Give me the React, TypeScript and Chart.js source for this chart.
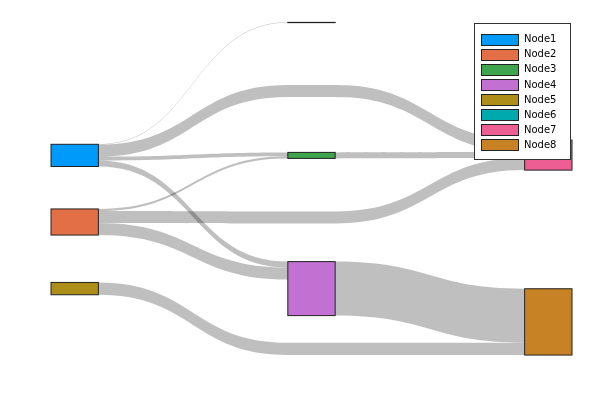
import React, { useEffect, useRef } from "react";
import { Chart, registerables } from "chart.js";

Chart.register(...registerables);

// ---- data ----
const nodeNames = ["Node1", "Node2", "Node3", "Node4", "Node5", "Node6", "Node7", "Node8"];
const nodeColors = ["#009AFA", "#E36F47", "#3EA44E", "#C271D2", "#AC8E18", "#00A9AD", "#ED5E93", "#C68225"];
const nodeLayer = [0, 0, 1, 1, 0, 1, 2, 2];
const nodeY = [51.8, 74.0, 51.8, 96.2, 96.2, 7.5, 51.7, 107.3];

const linkSource = [0, 0, 0, 0, 1, 1, 1, 2, 3, 4];
const linkTarget = [5, 6, 2, 3, 2, 6, 3, 6, 7, 7];
const linkValue = [0.1, 4, 1.3, 2, 0.7, 4, 4, 2, 18, 4.1];
const linkVia: (number | null)[] = [null, 30.3, null, null, null, 72.5, null, null, null, 116.3];

const NODE_W = 0.2;

const sankeyPlugin = {
  id: "sankeyDraw",
  afterDraw(chart: any) {
    const ctx: CanvasRenderingContext2D = chart.ctx;
    const xs = chart.scales.x;
    const ys = chart.scales.y;
    const n = nodeNames.length;
    const inSum = new Array(n).fill(0);
    const outSum = new Array(n).fill(0);
    linkValue.forEach((v, i) => {
      outSum[linkSource[i]] += v;
      inSum[linkTarget[i]] += v;
    });
    const h = nodeY.map((_, i) => Math.max(inSum[i], outSum[i]));
    const top = nodeY.map((y, i) => y - h[i] / 2);

    // next/prev y for ordering
    const nextY = linkSource.map((_, i) => (linkVia[i] != null ? (linkVia[i] as number) : nodeY[linkTarget[i]]));
    const prevY = linkSource.map((_, i) => (linkVia[i] != null ? (linkVia[i] as number) : nodeY[linkSource[i]]));

    const srcOff = new Array(linkValue.length).fill(0);
    const tgtOff = new Array(linkValue.length).fill(0);
    for (let k = 0; k < n; k++) {
      const outs = linkSource.map((s, i) => i).filter((i) => linkSource[i] === k).sort((a, b) => nextY[a] - nextY[b]);
      let acc = top[k];
      outs.forEach((i) => { srcOff[i] = acc; acc += linkValue[i]; });
      const ins = linkTarget.map((t, i) => i).filter((i) => linkTarget[i] === k).sort((a, b) => prevY[a] - prevY[b]);
      acc = top[k];
      ins.forEach((i) => { tgtOff[i] = acc; acc += linkValue[i]; });
    }

    const px = (v: number) => xs.getPixelForValue(v);
    const py = (v: number) => ys.getPixelForValue(v);

    // flows
    ctx.save();
    ctx.fillStyle = "rgba(0,0,0,0.25)";
    linkValue.forEach((v, i) => {
      const s = linkSource[i], t = linkTarget[i];
      const stations: { xl: number; xr: number; y: number }[] = [];
      stations.push({ xl: px(nodeLayer[s] + NODE_W / 2), xr: px(nodeLayer[s] + NODE_W / 2), y: srcOff[i] });
      if (linkVia[i] != null) {
        const L = nodeLayer[s] + 1;
        stations.push({ xl: px(L - NODE_W / 2), xr: px(L + NODE_W / 2), y: (linkVia[i] as number) - v / 2 });
      }
      stations.push({ xl: px(nodeLayer[t] - NODE_W / 2), xr: px(nodeLayer[t] - NODE_W / 2), y: tgtOff[i] });

      ctx.beginPath();
      ctx.moveTo(stations[0].xr, py(stations[0].y));
      for (let j = 1; j < stations.length; j++) {
        const a = stations[j - 1], b = stations[j];
        const mx = (a.xr + b.xl) / 2;
        ctx.bezierCurveTo(mx, py(a.y), mx, py(b.y), b.xl, py(b.y));
        if (b.xr !== b.xl) ctx.lineTo(b.xr, py(b.y));
      }
      const last = stations[stations.length - 1];
      ctx.lineTo(last.xr, py(last.y + v));
      for (let j = stations.length - 1; j >= 1; j--) {
        const b = stations[j], a = stations[j - 1];
        if (b.xr !== b.xl) ctx.lineTo(b.xl, py(b.y + v));
        const mx = (a.xr + b.xl) / 2;
        ctx.bezierCurveTo(mx, py(b.y + v), mx, py(a.y + v), a.xr, py(a.y + v));
      }
      ctx.closePath();
      ctx.fill();
    });

    // nodes
    ctx.lineWidth = 1;
    ctx.strokeStyle = "#222";
    for (let k = 0; k < n; k++) {
      const x0 = px(nodeLayer[k] - NODE_W / 2);
      const x1 = px(nodeLayer[k] + NODE_W / 2);
      const y0 = py(top[k]);
      const y1 = py(top[k] + h[k]);
      ctx.fillStyle = nodeColors[k];
      ctx.fillRect(x0, y0, x1 - x0, y1 - y0);
      ctx.strokeRect(x0, y0, x1 - x0, y1 - y0);
    }

    // legend
    const lx0 = 474.5, ly0 = 23.5, lw = 96, lh = 136;
    ctx.fillStyle = "#fff";
    ctx.fillRect(lx0, ly0, lw, lh);
    ctx.strokeStyle = "#333";
    ctx.strokeRect(lx0, ly0, lw, lh);
    ctx.font = '10px "DejaVu Sans"';
    ctx.textBaseline = "middle";
    ctx.textAlign = "left";
    nodeNames.forEach((name, k) => {
      const cy = 39 + k * 15.14;
      ctx.fillStyle = nodeColors[k];
      ctx.fillRect(481.5, Math.round(cy - 5.5) + 0.5, 37, 11);
      ctx.strokeStyle = "#222";
      ctx.strokeRect(481.5, Math.round(cy - 5.5) + 0.5, 37, 11);
      ctx.fillStyle = "#000";
      ctx.fillText(name, 524, cy + 0.5);
    });
    ctx.restore();
  },
};

export default function App() {
  const ref = useRef<HTMLCanvasElement | null>(null);
  useEffect(() => {
    if (!ref.current) return;
    const chart = new Chart(ref.current, {
      type: "scatter",
      data: { datasets: [] },
      options: {
        animation: false,
        responsive: false,
        layout: { padding: { left: 51, right: 28, top: 0, bottom: 0 } },
        scales: {
          x: { type: "linear", min: -0.1, max: 2.1, display: false },
          y: { type: "linear", min: 0, max: 400 / 3, reverse: true, display: false },
        },
        plugins: { legend: { display: false }, tooltip: { enabled: false } },
      },
      plugins: [sankeyPlugin],
    });
    return () => chart.destroy();
  }, []);
  return (
    <div style={{ position: "absolute", left: 0, top: 0, width: 600, height: 400, background: "#fff" }}>
      <canvas ref={ref} width={600} height={400} style={{ display: "block" }} />
    </div>
  );
}
